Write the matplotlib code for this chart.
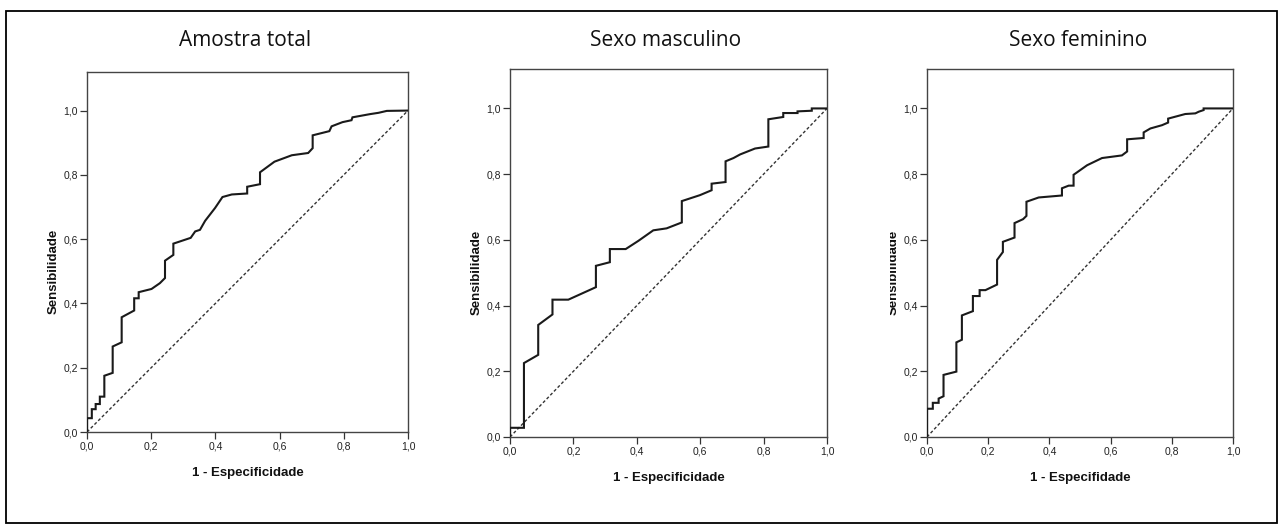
import matplotlib
matplotlib.use("Agg")
import matplotlib.pyplot as plt
from matplotlib.patches import Rectangle
from matplotlib.transforms import Bbox, TransformedBbox
from matplotlib.ticker import FuncFormatter

# ── data ─────────────────────────────────────────────────────────────────────
titles = ["Amostra total", "Sexo masculino", "Sexo feminino"]
xlabels = ["1 - Especificidade", "1 - Especificidade", "1 - Especifidade"]
ylabel = "Sensibilidade"
ticks = [0.0, 0.2, 0.4, 0.6, 0.8, 1.0]

fpr_total = [0, 0, 0.015, 0.015, 0.027, 0.027, 0.040, 0.040, 0.054, 0.054, 0.080,
             0.080, 0.108, 0.108, 0.147, 0.147, 0.161, 0.161, 0.201, 0.227, 0.243,
             0.243, 0.269, 0.269, 0.323, 0.337, 0.352, 0.368, 0.399, 0.422, 0.451,
             0.499, 0.499, 0.539, 0.539, 0.584, 0.638, 0.689, 0.703, 0.703, 0.755,
             0.762, 0.796, 0.824, 0.827, 0.882, 0.908, 0.934, 1.0]
tpr_total = [0, 0.043, 0.043, 0.071, 0.071, 0.087, 0.087, 0.110, 0.110, 0.175, 0.184,
             0.266, 0.279, 0.357, 0.378, 0.416, 0.416, 0.435, 0.445, 0.463, 0.479,
             0.533, 0.551, 0.586, 0.604, 0.624, 0.629, 0.657, 0.697, 0.731, 0.739,
             0.742, 0.763, 0.771, 0.808, 0.841, 0.861, 0.868, 0.883, 0.923, 0.936,
             0.951, 0.964, 0.970, 0.979, 0.989, 0.993, 0.999, 1.0]

fpr_masc = [0, 0, 0.044, 0.044, 0.089, 0.089, 0.134, 0.134, 0.184, 0.271, 0.271,
            0.315, 0.315, 0.365, 0.405, 0.452, 0.494, 0.542, 0.542, 0.599, 0.636,
            0.636, 0.680, 0.680, 0.705, 0.726, 0.773, 0.815, 0.815, 0.862, 0.862,
            0.907, 0.907, 0.952, 0.952, 1.0]
tpr_masc = [0, 0.028, 0.028, 0.225, 0.250, 0.341, 0.373, 0.418, 0.418, 0.456, 0.521,
            0.532, 0.572, 0.572, 0.597, 0.629, 0.635, 0.653, 0.718, 0.736, 0.751,
            0.771, 0.776, 0.839, 0.849, 0.860, 0.878, 0.884, 0.967, 0.974, 0.986,
            0.986, 0.991, 0.993, 1.0, 1.0]

fpr_fem = [0, 0, 0.019, 0.019, 0.038, 0.038, 0.054, 0.054, 0.096, 0.096, 0.114,
           0.114, 0.150, 0.150, 0.172, 0.172, 0.191, 0.229, 0.229, 0.248, 0.248,
           0.286, 0.286, 0.314, 0.325, 0.325, 0.365, 0.441, 0.441, 0.463, 0.479,
           0.479, 0.523, 0.572, 0.637, 0.654, 0.654, 0.708, 0.708, 0.730, 0.768,
           0.788, 0.788, 0.808, 0.844, 0.877, 0.888, 0.904, 0.904, 1.0]
tpr_fem = [0, 0.086, 0.086, 0.104, 0.104, 0.117, 0.124, 0.189, 0.199, 0.288, 0.296,
           0.370, 0.383, 0.429, 0.429, 0.447, 0.447, 0.464, 0.539, 0.563, 0.594,
           0.607, 0.651, 0.663, 0.673, 0.716, 0.729, 0.735, 0.757, 0.765, 0.765,
           0.798, 0.827, 0.849, 0.857, 0.869, 0.906, 0.910, 0.927, 0.939, 0.949,
           0.957, 0.969, 0.974, 0.983, 0.985, 0.990, 0.995, 1.0, 1.0]

curves = [(fpr_total, tpr_total), (fpr_masc, tpr_masc), (fpr_fem, tpr_fem)]

# ── layout (figure pixels: left, top, right, bottom of each plot box) ────────
W, H = 1282, 529
YTOP = 1.12
boxes = [(87, 72, 408, 432), (510, 69, 827, 437), (927, 69, 1233, 437)]
title_pos = [(245, 40), (666, 40), (1078, 40)]

fig = plt.figure(figsize=(W / 100, H / 100), dpi=100)
fig.patches.append(Rectangle((6 / W, 1 - 523 / H), 1271 / W, 512 / H,
                             transform=fig.transFigure, fill=False,
                             edgecolor="black", linewidth=1.3))

comma = FuncFormatter(lambda v, _: f"{v:.1f}".replace(".", ","))

for i, ((l, t, r, b), (fpr, tpr)) in enumerate(zip(boxes, curves)):
    ax = fig.add_axes([l / W, 1 - b / H, (r - l) / W, (b - t) / H])
    ax.set_xlim(0, 1)
    ax.set_ylim(0, YTOP)
    ax.plot([0, 1], [0, 1], color="#333333", linewidth=1.0,
            linestyle=(0, (2.2, 1.6)), zorder=2)
    ax.plot(fpr, tpr, color="#1a1a1a", linewidth=1.5, zorder=3,
            solid_joinstyle="miter")
    ax.set_xticks(ticks)
    ax.set_yticks(ticks)
    ax.xaxis.set_major_formatter(comma)
    ax.yaxis.set_major_formatter(comma)
    ax.tick_params(direction="out", length=5, width=0.9, color="#333333",
                   labelsize=7.5, labelcolor="#222222", pad=1.5,
                   labelfontfamily="Liberation Sans")
    for s in ax.spines.values():
        s.set_color("#444444")
        s.set_linewidth(1.0)

    # axis labels centred on the 0..1 range
    px_per_unit = (b - t) / YTOP
    ax.text(0.5, -41 / px_per_unit, xlabels[i], ha="center", va="center",
            fontsize=9.5, fontweight="bold", family="Liberation Sans",
            color="#111111", clip_on=False)
    y_half = b - 0.5 * px_per_unit
    yl = fig.text((l - 33) / W, 1 - y_half / H, ylabel,
                  rotation=90, ha="center", va="center", fontsize=9.5,
                  fontweight="bold", family="Liberation Sans", color="#111111")
    if i == 2:
        # the reference shows this label cut off on its left half
        clip = TransformedBbox(Bbox([[890 / W, 0], [1, 1]]), fig.transFigure)
        yl.set_clip_box(clip)
        yl.set_clip_on(True)

    fig.text(title_pos[i][0] / W, 1 - title_pos[i][1] / H, titles[i],
             ha="center", va="center", fontsize=15, family="Open Sans",
             color="#111111")

fig.savefig("out.png", dpi=100)
